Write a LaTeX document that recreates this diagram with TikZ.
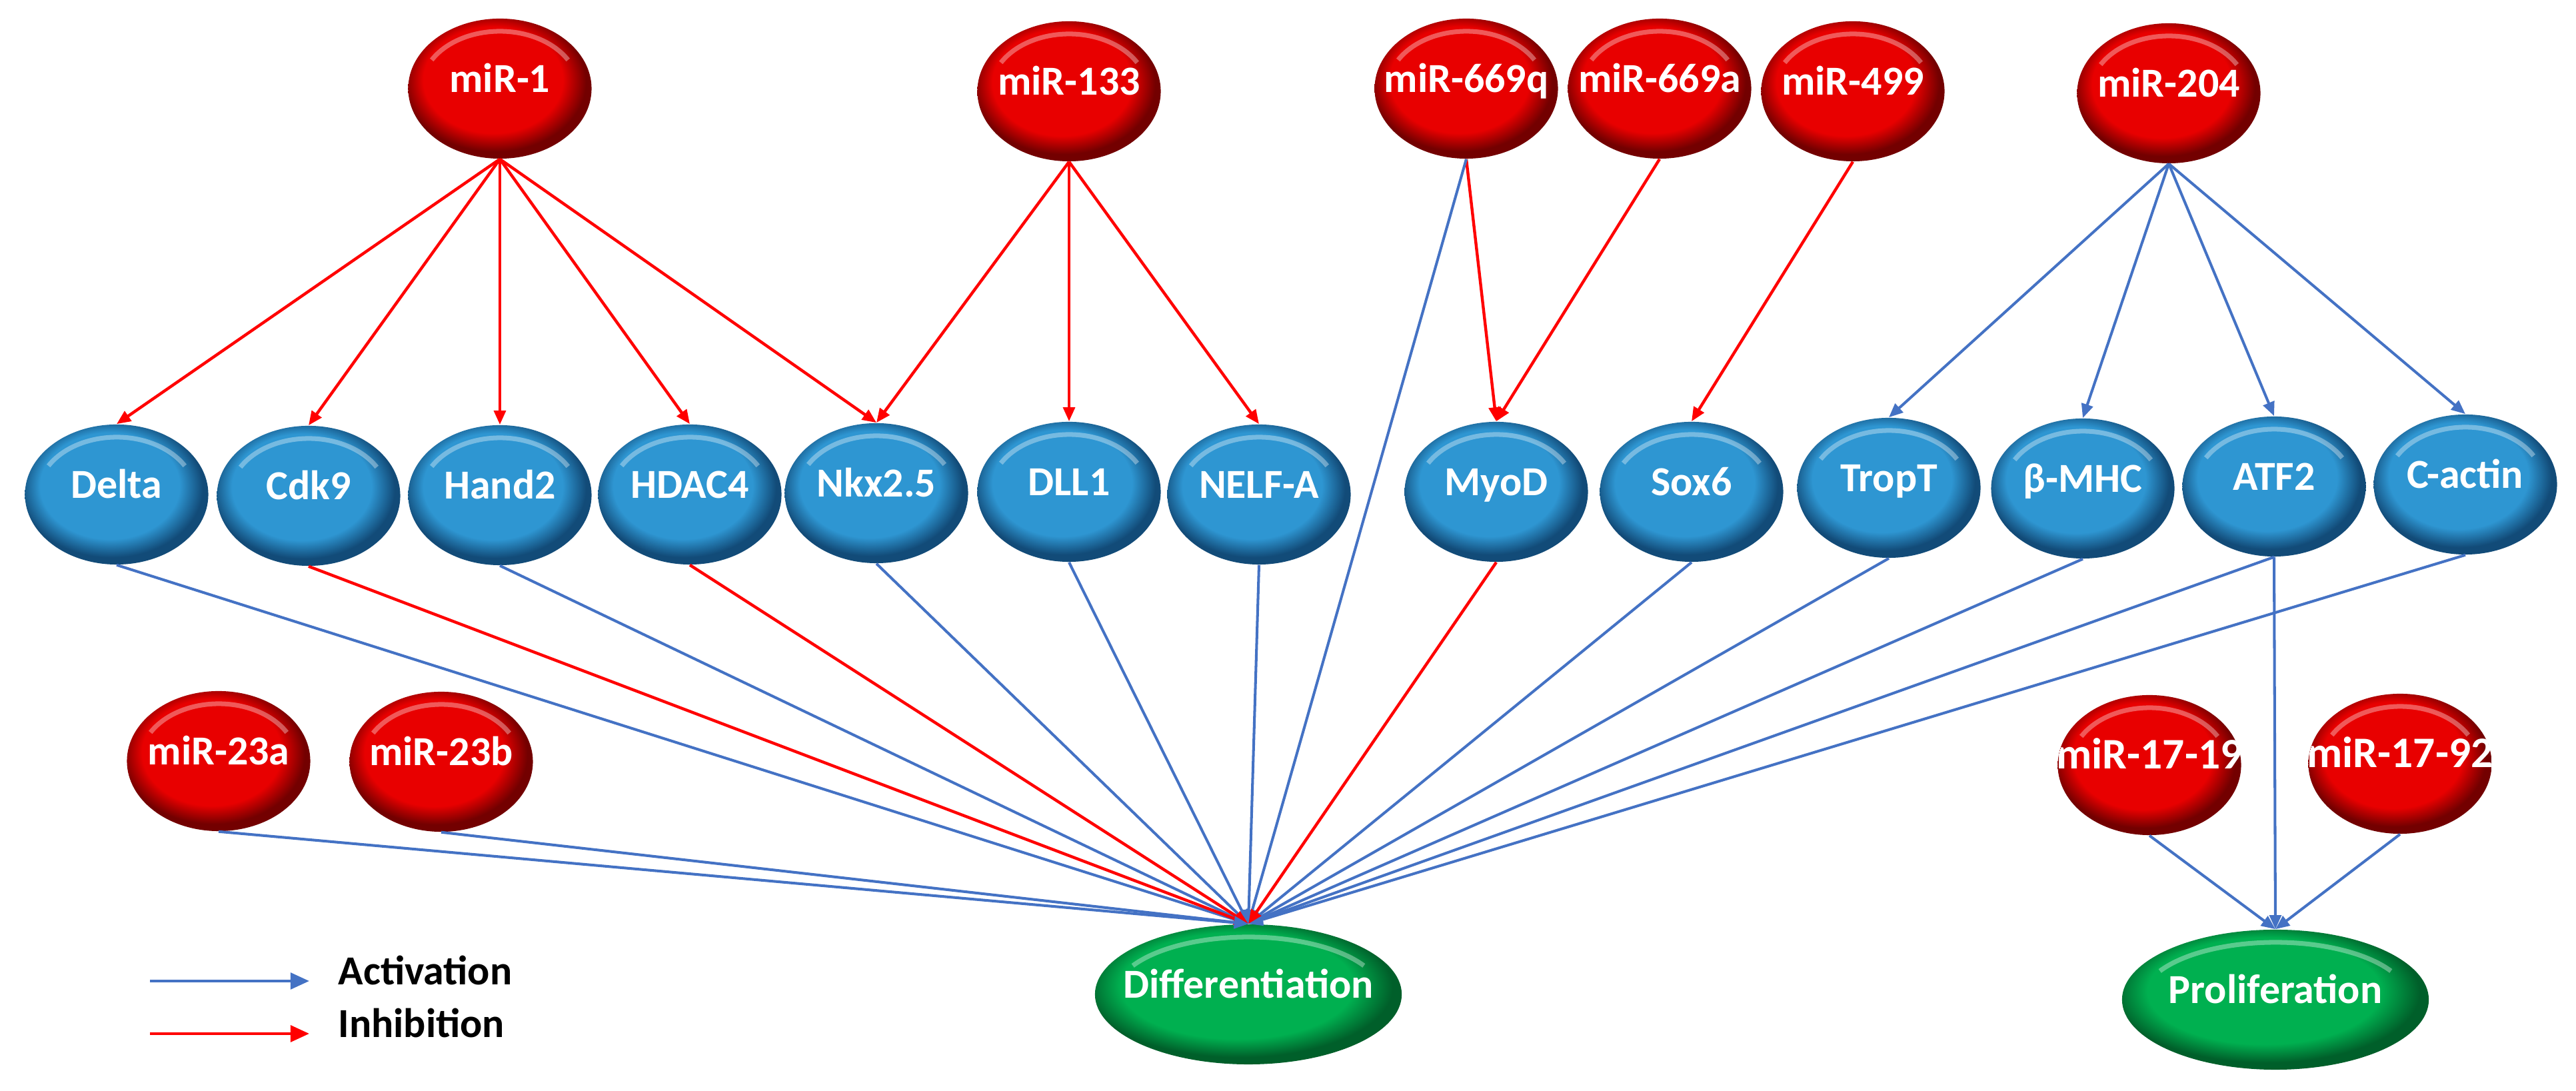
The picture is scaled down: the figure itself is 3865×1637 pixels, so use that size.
\documentclass[tikz,border=0pt]{standalone}
\usepackage{fontspec}
\setmainfont{Carlito}
\usetikzlibrary{shapes.geometric,arrows.meta,calc}
\definecolor{rmain}{RGB}{232,0,0}
\definecolor{rdark}{RGB}{115,0,0}
\definecolor{bmain}{RGB}{46,150,210}
\definecolor{bdark}{RGB}{18,75,120}
\definecolor{gmain}{RGB}{0,176,80}
\definecolor{gdark}{RGB}{0,95,42}
\definecolor{actblue}{RGB}{68,114,196}
\definecolor{inhred}{RGB}{255,0,0}
\pgfdeclareradialshading{redsh}{\pgfpoint{-3bp}{5bp}}{color(0bp)=(rmain); color(19bp)=(rmain); color(25bp)=(rdark); color(50bp)=(rdark)}
\pgfdeclareradialshading{bluesh}{\pgfpoint{-3bp}{5bp}}{color(0bp)=(bmain); color(19bp)=(bmain); color(25bp)=(bdark); color(50bp)=(bdark)}
\pgfdeclareradialshading{greensh}{\pgfpoint{-3bp}{5bp}}{color(0bp)=(gmain); color(19bp)=(gmain); color(25bp)=(gdark); color(50bp)=(gdark)}
\newcommand{\ctrtxt}[1]{\makebox[0pt][c]{#1}}
\newcommand{\hlarc}[2]{\draw[white,opacity=.35,line width=2pt]
     ($(path picture bounding box.center)+(150:#1 and #2)$)
     arc[start angle=150,end angle=30,x radius=#1,y radius=#2];}
\tikzset{
  x=0.01cm, y=0.01cm,
  nodefont/.style={font=\fontsize{17.6}{20}\selectfont\bfseries, text height=1.4ex, text depth=0.7ex},
  hl/.style 2 args={path picture={\hlarc{#1}{#2}}},
  bub/.style={ellipse, inner sep=0pt, minimum width=2.75cm, minimum height=2.1cm,
     text=white, nodefont, shade},
  redn/.style={bub, shading=redsh, hl={1.18cm}{0.86cm}},
  redclip/.style 2 args={bub, shading=redsh, path picture={\hlarc{1.18cm}{0.86cm}
     \node[text=white, nodefont, font=\fontsize{18.6}{20}\selectfont\bfseries, inner sep=0pt]
       (#2) at (path picture bounding box.center) {#1};}},
  bluen/.style={bub, shading=bluesh, hl={1.18cm}{0.86cm}},
  greenn/.style={bub, shading=greensh, minimum width=4.6cm, hl={2.0cm}{0.86cm}},
  act/.style={draw=actblue, line width=1.15pt, -{Triangle[length=6pt,width=5pt]}},
  inh/.style={draw=inhred, line width=1.25pt, -{Triangle[length=6pt,width=5pt]}},
  legtxt/.style={anchor=west, text=black, nodefont, inner sep=0pt}
}
\begin{document}
\begin{tikzpicture}
\useasboundingbox (0,0) rectangle (3865,1637);
% top microRNAs
\node[redn] (m1)    at (750,1504)  {\ctrtxt{miR-1}};
\node[redn] (m133)  at (1604,1500) {\ctrtxt{miR-133}};
\node[redn] (m669q) at (2200,1504) {\ctrtxt{miR-669q}};
\node[redn] (m669a) at (2490,1504) {\ctrtxt{miR-669a}};
\node[redn] (m499)  at (2780,1500) {\ctrtxt{miR-499}};
\node[redn] (m204)  at (3254,1497) {\ctrtxt{miR-204}};
% targets
\node[bluen] (delta)  at (175,895)  {\ctrtxt{Delta}};
\node[bluen] (cdk9)   at (463,893)  {\ctrtxt{Cdk9}};
\node[bluen] (hand2)  at (750,894)  {\ctrtxt{Hand2}};
\node[bluen] (hdac4)  at (1035,895) {\ctrtxt{HDAC4}};
\node[bluen] (nkx)    at (1315,897) {\ctrtxt{Nkx2.5}};
\node[bluen] (dll1)   at (1604,899) {\ctrtxt{DLL1}};
\node[bluen] (nelf)   at (1889,895) {\ctrtxt{NELF-A}};
\node[bluen] (myod)   at (2245,899) {\ctrtxt{MyoD}};
\node[bluen] (sox6)   at (2538,899) {\ctrtxt{Sox6}};
\node[bluen] (tropt)  at (2834,905) {\ctrtxt{TropT}};
\node[bluen] (bmhc)   at (3125,904) {\ctrtxt{β-MHC}};
\node[bluen] (atf2)   at (3412,907) {\ctrtxt{ATF2}};
\node[bluen] (cactin) at (3699,910) {\ctrtxt{C-actin}};
% lower microRNAs
\node[redn] (m23a)  at (328,495)  {\ctrtxt{miR-23a}};
\node[redn] (m23b)  at (662,494)  {\ctrtxt{miR-23b}};
\node[redclip={miR-17-19}{t1719}] (m1719) at (3225,489) {};
\node[redclip={miR-17-92}{t1792}] (m1792) at (3601,491) {};
% outcomes
\node[greenn] (diff)   at (1873,145) {\ctrtxt{Differentiation}};
\node[greenn] (prolif) at (3414,137) {\ctrtxt{Proliferation}};
% microRNA -> target
\foreach \t in {delta,cdk9,hand2,hdac4,nkx} \draw[inh] (m1.south) -- (\t.north);
\foreach \t in {nkx,dll1,nelf} \draw[inh] (m133.south) -- (\t.north);
\draw[inh] (m669q.south) -- (myod.north);
\draw[inh] (m669a.south) -- (myod.north);
\draw[inh] (m499.south) -- (sox6.north);
\foreach \t in {tropt,bmhc,atf2,cactin} \draw[act] (m204.south) -- (\t.north);
% to differentiation
\draw[act] (m669q.south) -- (diff.north);
\foreach \s in {delta,hand2,nkx,dll1,nelf,sox6,tropt,bmhc,atf2,cactin} \draw[act] (\s.south) -- (diff.north);
\foreach \s in {cdk9,hdac4,myod} \draw[inh] (\s.south) -- (diff.north);
\draw[act] (m23a.south) -- (diff.north);
\draw[act] (m23b.south) -- (diff.north);
% to proliferation
\draw[act] (atf2.south) -- (prolif.north);
\draw[act] (m1719.south) -- (prolif.north);
\draw[act] (m1792.south) -- (prolif.north);
% legend
\coordinate (la1) at (225,165); \coordinate (la2) at (464,165);
\coordinate (li1) at (225,86);  \coordinate (li2) at (464,86);
\draw[act, -{Triangle[length=8pt,width=7pt]}] (la1) -- (la2);
\draw[inh, -{Triangle[length=8pt,width=7pt]}] (li1) -- (li2);
\node[legtxt] (lact) at (507,165) {Activation};
\node[legtxt] (linh) at (507,86) {Inhibition};
\end{tikzpicture}
\end{document}
